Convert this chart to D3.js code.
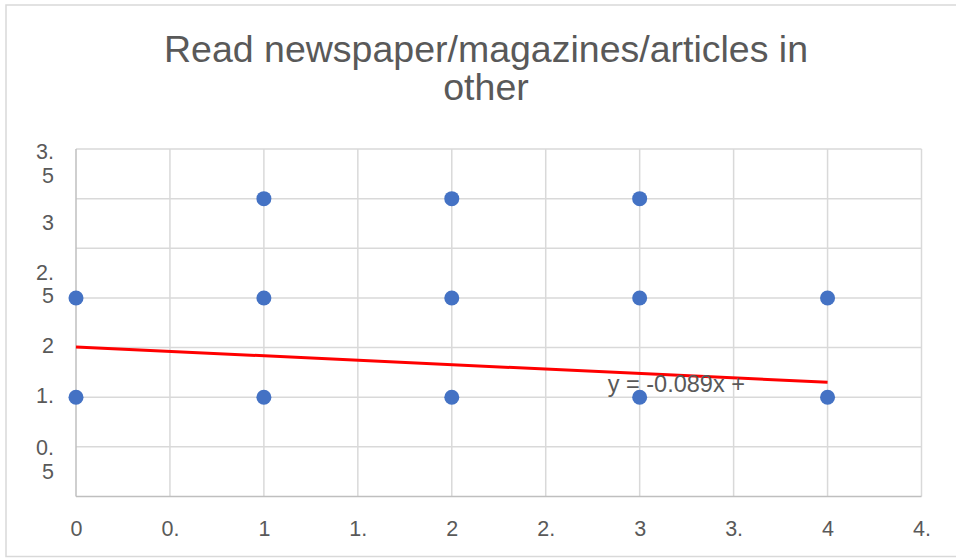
<!DOCTYPE html>
<html lang="en">
<head>
<meta charset="UTF-8">
<title>Read newspaper/magazines/articles in other</title>
<style>
  body { margin: 0; background: #fff; font-family: "Liberation Sans", Arial, sans-serif; }
  svg { display: block; }
</style>
</head>
<body>
<svg id="chart" width="956" height="558"></svg>
<script src="https://d3js.org/d3.v7.min.js"></script>
<script>
// points (x, y) - several sit on top of each other
const pointsX = [0, 0, 1, 1, 1, 2, 2, 2, 3, 3, 3, 4, 4];
const pointsY = [2, 1, 3, 2, 1, 3, 2, 1, 3, 2, 1, 2, 1];

const xTicks = [0, 0.5, 1, 1.5, 2, 2.5, 3, 3.5, 4, 4.5];
const xTickLabels = ["0", "0.", "1", "1.", "2", "2.", "3", "3.", "4", "4."];

const yGrid = [0, 0.5, 1, 1.5, 2, 2.5, 3, 3.5];
// wrapped/clipped labels as they appear, and where they sit
const yTickLabels = [["3.", "5"], ["3"], ["2.", "5"], ["2"], ["1."], ["0.", "5"]];
const yTickAt = [3.47, 2.76, 2.26, 1.52, 1.02, 0.49];

// linear trendline
const trendSlope = -0.089;
const trendIntercept = 1.506;
const trendRange = [0, 4];
const trendLabel = "y = -0.089x +";

const title = ["Read newspaper/magazines/articles in", "other"];

const svg = d3.select("#chart");
const textColor = "#595959";

// chart frame
svg.append("rect")
  .attr("x", 6).attr("y", 5)
  .attr("width", 960).attr("height", 551.5)
  .attr("fill", "none")
  .attr("stroke", "#d9d9d9")
  .attr("stroke-width", 1.5);

const x = d3.scaleLinear().domain([0, 4.5]).range([76, 921.5]);
const y = d3.scaleLinear().domain([0, 3.5]).range([496.5, 149]);

// title
svg.append("g").selectAll("text")
  .data(title)
  .join("text")
  .attr("x", 486)
  .attr("y", (d, i) => 62 + i * 38)
  .attr("text-anchor", "middle")
  .attr("font-size", 37.5)
  .attr("fill", textColor)
  .text(d => d);

// gridlines
const grid = svg.append("g").attr("stroke", "#d9d9d9").attr("stroke-width", 1.5);
grid.selectAll(".vg")
  .data(xTicks.filter(d => d > 0))
  .join("line")
  .attr("x1", d => x(d)).attr("x2", d => x(d))
  .attr("y1", y(3.5)).attr("y2", y(0));
grid.selectAll(".hg")
  .data(yGrid.filter(d => d > 0))
  .join("line")
  .attr("x1", x(0)).attr("x2", x(4.5))
  .attr("y1", d => y(d)).attr("y2", d => y(d));

// axis lines
svg.append("line")
  .attr("x1", x(0)).attr("x2", x(0))
  .attr("y1", y(3.5)).attr("y2", y(0))
  .attr("stroke", "#bfbfbf").attr("stroke-width", 1.5);
svg.append("line")
  .attr("x1", x(0)).attr("x2", x(4.5))
  .attr("y1", y(0)).attr("y2", y(0))
  .attr("stroke", "#bfbfbf").attr("stroke-width", 1.5);

// x axis labels
const xAxis = svg.append("g")
  .attr("transform", `translate(0,${y(0)})`)
  .call(d3.axisBottom(x)
    .tickValues(xTicks)
    .tickSize(0)
    .tickPadding(0)
    .tickFormat((d, i) => xTickLabels[i]));
xAxis.select(".domain").remove();
xAxis.selectAll("text")
  .attr("y", 39.5)
  .attr("dy", 0)
  .attr("fill", textColor)
  .attr("font-size", 21.5)
  .attr("font-family", "'Liberation Sans Narrow', 'Liberation Sans', Arial, sans-serif");

// y axis labels
const yLab = svg.append("g")
  .selectAll("text")
  .data(yTickLabels)
  .join("text")
  .attr("text-anchor", "end")
  .attr("font-size", 21.5)
  .attr("fill", textColor);
yLab.each(function (lines, i) {
  d3.select(this).selectAll("tspan")
    .data(lines)
    .join("tspan")
    .attr("x", 54)
    .attr("y", (d, j) => y(yTickAt[i]) + 7.5 + j * 23.5)
    .text(d => d);
});

// trendline
svg.append("line")
  .attr("x1", x(trendRange[0]))
  .attr("y1", y(trendIntercept + trendSlope * trendRange[0]))
  .attr("x2", x(trendRange[1]))
  .attr("y2", y(trendIntercept + trendSlope * trendRange[1]))
  .attr("stroke", "#ff0000")
  .attr("stroke-width", 3);

// points
svg.append("g")
  .selectAll("circle")
  .data(pointsX.map((d, i) => [d, pointsY[i]]))
  .join("circle")
  .attr("cx", d => x(d[0]))
  .attr("cy", d => y(d[1]))
  .attr("r", 7.5)
  .attr("fill", "#4472c4");

// trendline equation
svg.append("text")
  .attr("x", x(2.83))
  .attr("y", y(1.05))
  .attr("font-size", 23.5)
  .attr("fill", textColor)
  .text(trendLabel);
</script>
</body>
</html>
